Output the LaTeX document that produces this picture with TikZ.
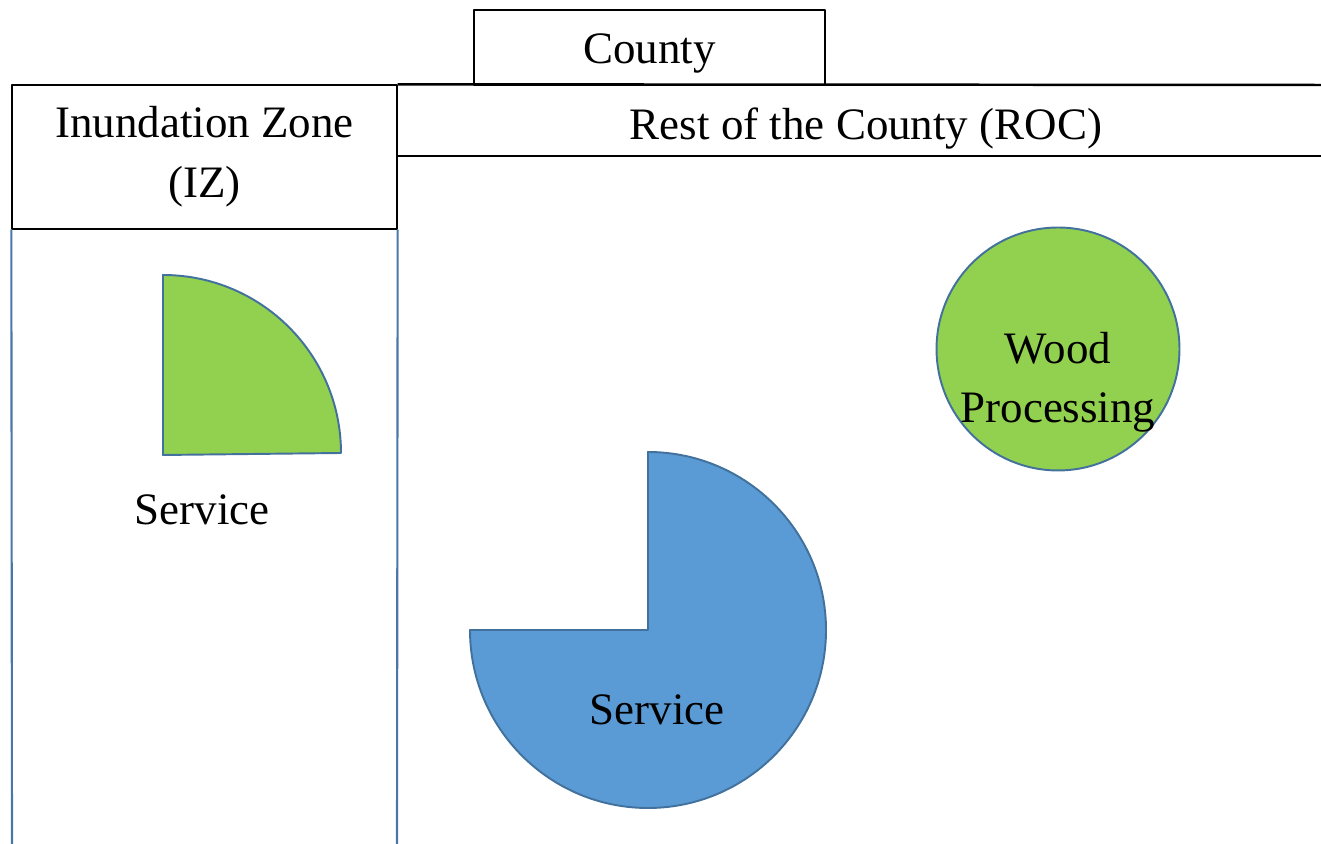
\documentclass[tikz,border=0pt]{standalone}
\usepackage{fontspec}
\setmainfont{Liberation Serif}
\usepackage{tikz}
\usetikzlibrary{calc,positioning}
\usepackage{xcolor}
\definecolor{zonegreen}{HTML}{92D050}
\definecolor{zoneblue}{HTML}{5B9BD5}
\definecolor{zoneedge}{HTML}{41719C}
\definecolor{zoneline}{HTML}{4A76A8}
\newcommand{\zonefont}{\fontsize{25.6}{34}\selectfont}
\tikzset{
  header box/.style={draw=black,line width=.8pt,inner sep=0pt,font=\zonefont,align=center},
  zone label/.style={font=\zonefont,inner sep=0pt,align=center},
  zone border/.style={draw=zoneline,line width=1.2pt},
  sector/.style={draw=zoneedge,line width=1.1pt}
}

\begin{document}
\begin{tikzpicture}[x=0.02cm,y=0.02cm,line join=round]
  \useasboundingbox (0,0) rectangle (1321,844);
  \node[header box,minimum width=7.02cm,minimum height=1.5cm,text height=18.3pt,text depth=0pt] (county) at (649.5,796.5) {County};
  \node[header box,minimum width=7.7cm,minimum height=2.88cm] (iz) at (204.5,687) {Inundation Zone\\(IZ)};
  \node[zone label] (roc) at (866,715) {Rest of the County (ROC)};
  \coordinate (topend) at (1321,759);
  \coordinate (rocend) at (1321,688);
  \coordinate (izbotl) at (12,0);
  \coordinate (izbotr) at (397,0);

  \draw[line width=1.4pt] (iz.north east) -- (topend);
  \draw[line width=.8pt] (iz.east |- rocend) -- (rocend);
  \draw[zone border] (iz.south west) -- (izbotl) (iz.south east) -- (izbotr);

  % inundation zone
  \draw[sector,fill=zonegreen] (163,389) -- (163,569) arc[start angle=90,end angle=0,radius=178] -- cycle;
  \node[zone label] (izservice) at (202,334) {Service};

  % rest of the county
  \draw[sector,fill=zoneblue] (648,214) -- (648,392) arc[start angle=90,end angle=-180,radius=178] -- cycle;
  \node[zone label] (rocservice) at (657,134) {Service};
  \node[sector,fill=zonegreen,circle,minimum size=4.86cm,inner sep=0pt] (wood) at (1058,495) {};
  \node[zone label] (woodtext) at ([yshift=-19pt]wood.center) {Wood\\Processing};
\end{tikzpicture}
\end{document}
